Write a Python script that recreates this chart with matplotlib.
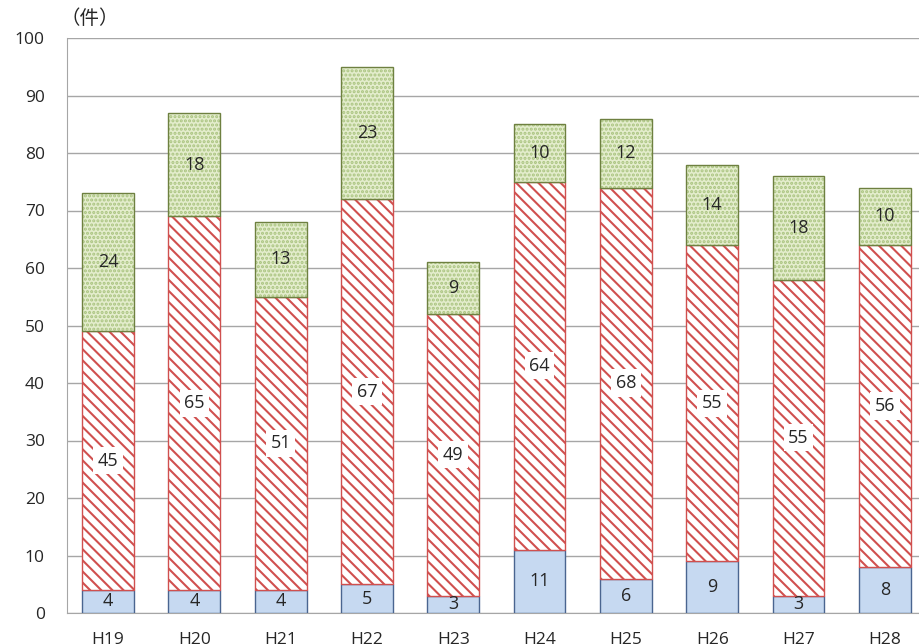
import matplotlib
matplotlib.use("Agg")
import matplotlib.pyplot as plt
import numpy as np

years = ["H19", "H20", "H21", "H22", "H23", "H24", "H25", "H26", "H27", "H28"]
blue_vals = [4, 4, 4, 5, 3, 11, 6, 9, 3, 8]
red_vals = [45, 65, 51, 67, 49, 64, 68, 55, 55, 56]
green_vals = [24, 18, 13, 23, 9, 10, 12, 14, 18, 10]

plt.rcParams['font.family'] = ['Open Sans', 'Noto Sans CJK JP', 'DejaVu Sans']
plt.rcParams['hatch.linewidth'] = 1.5

fig = plt.figure(figsize=(9.2, 6.44), dpi=100)
ax = fig.add_axes([67/920, 31/644, 861/920, 575/644])

x = np.arange(len(years))
w = 0.6
blue = np.array(blue_vals)
red = np.array(red_vals)
green = np.array(green_vals)

# bottom: light blue
ax.bar(x, blue, w, color="#C6D9F1", edgecolor="#4A6590", linewidth=1, zorder=3)
# middle: red diagonal stripes
ax.bar(x, red, w, bottom=blue, color="white", edgecolor="#D0504F", hatch="\\\\\\",
       linewidth=1, zorder=3)
# top: dotted green
ax.bar(x, green, w, bottom=blue + red, color="#E4EDCD", edgecolor="#A9C37F",
       hatch="....", linewidth=0, zorder=3)
plt.rcParams['hatch.linewidth'] = 1
ax.bar(x, green, w, bottom=blue + red, color="none", edgecolor="#6E8040",
       linewidth=1, zorder=4)

# value labels
for i in range(len(years)):
    segs = [(blue[i], 0), (red[i], blue[i]), (green[i], blue[i] + red[i])]
    for j, (v, b) in enumerate(segs):
        ax.text(x[i], b + v / 2, str(v), ha="center", va="center", fontsize=13,
                color="#262626", zorder=5,
                bbox=dict(boxstyle="square,pad=0.25", fc="white" if j == 1 else "none",
                          ec="none"))

ax.set_ylim(0, 100)
ax.set_xlim(-0.475, len(years) - 0.5)
ax.set_yticks(np.arange(0, 101, 10))
ax.set_xticks(x)
ax.set_xticklabels(years)
ax.tick_params(length=0, labelsize=12.5, colors="#262626")
ax.tick_params(axis="x", pad=14)
ax.tick_params(axis="y", pad=16)
ax.yaxis.grid(True, color="#A6A6A6", linewidth=1, zorder=0)
ax.set_axisbelow(True)
for s in ["top", "right"]:
    ax.spines[s].set_visible(False)
for s in ["left", "bottom"]:
    ax.spines[s].set_color("#A6A6A6")

fig.text(90/920, 1 - 19/644, "（件）", fontsize=14, ha="center", va="center",
         color="#262626", family=['Noto Sans CJK JP', 'DejaVu Sans'])

fig.savefig("out.png", dpi=100)
